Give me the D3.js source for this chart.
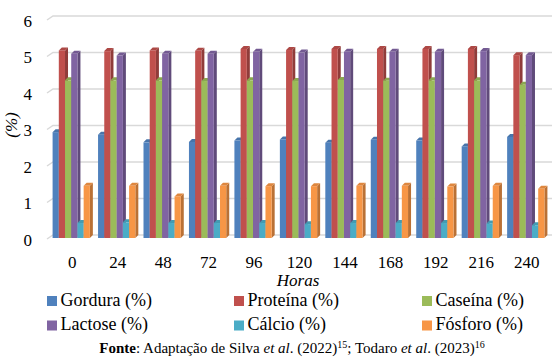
<!DOCTYPE html>
<html>
<head>
<meta charset="utf-8">
<script src="https://cdn.jsdelivr.net/npm/d3@7"></script>
<style>
  body { margin: 0; background: #fff; }
  svg { display: block; }
</style>
</head>
<body>
<svg id="chart" width="554" height="359" font-family="'Liberation Serif', 'DejaVu Serif', serif"></svg>
<script>
const hours = ["0", "24", "48", "72", "96", "120", "144", "168", "192", "216", "240"];
const series = ["Gordura (%)", "Proteína (%)", "Caseína (%)", "Lactose (%)", "Cálcio (%)", "Fósforo (%)"];
const gordura  = [2.90, 2.83, 2.62, 2.63, 2.67, 2.70, 2.61, 2.69, 2.67, 2.51, 2.77];
const proteina = [5.14, 5.12, 5.14, 5.13, 5.18, 5.15, 5.18, 5.18, 5.18, 5.18, 5.01];
const caseina  = [4.32, 4.32, 4.32, 4.30, 4.32, 4.30, 4.33, 4.31, 4.32, 4.32, 4.20];
const lactose  = [5.05, 5.00, 5.05, 5.05, 5.10, 5.08, 5.10, 5.10, 5.10, 5.12, 5.01];
const calcio   = [0.41, 0.43, 0.41, 0.41, 0.41, 0.38, 0.41, 0.41, 0.41, 0.40, 0.35];
const fosforo  = [1.43, 1.43, 1.14, 1.43, 1.42, 1.42, 1.43, 1.43, 1.41, 1.43, 1.35];
const yTicks = [0, 1, 2, 3, 4, 5, 6];
const colors = ["#4F81BD", "#C0504D", "#9BBB59", "#8064A2", "#4BACC6", "#F79646"];

const values = [gordura, proteina, caseina, lactose, calcio, fosforo];

const svg = d3.select("#chart");

const x = d3.scaleBand().domain(hours).range([48.5, 548.5]).paddingInner(0.18).paddingOuter(0.09);
const xs = d3.scaleBand().domain(series).range([0, x.bandwidth()]);
const y = d3.scaleLinear().domain([0, 6]).range([235, 16]);  // back wall
const depth = 3, base = 238;

// gridlines with the little 3D side wall
let grid = svg.append("g").attr("stroke", "#d9d9d9").attr("stroke-width", 1.5).attr("fill", "none");
yTicks.forEach(t => {
    grid.append("path").attr("d", `M47,${y(t) + 4}L53,${y(t)}L552,${y(t)}`);
});

// y tick labels
svg.append("g").selectAll("text").data(yTicks).join("text")
    .attr("x", 32).attr("y", d => y(d) + 10.5)
    .attr("text-anchor", "end").attr("font-size", 17)
    .text(d => d);

svg.append("text")
    .attr("transform", "translate(17,125) rotate(-90)")
    .attr("text-anchor", "middle").attr("font-size", 17).attr("font-style", "italic")
    .text("(%)");

// bars
let groups = svg.append("g").selectAll("g").data(hours).join("g")
    .attr("transform", d => `translate(${x(d)},0)`);

groups.each(function(h, i) {
    let g = d3.select(this);
    series.forEach((s, j) => {
        let v = values[j][i];
        let x0 = xs(s), w = xs.bandwidth();
        let top = y(v) + depth;
        let c = d3.color(colors[j]);
        g.append("path")
            .attr("d", `M${x0 + w},${base}L${x0 + w + depth},${base - depth}L${x0 + w + depth},${top - depth}L${x0 + w},${top}Z`)
            .attr("fill", c.darker(0.8));
        g.append("path")
            .attr("d", `M${x0},${top}L${x0 + depth},${top - depth}L${x0 + w + depth},${top - depth}L${x0 + w},${top}Z`)
            .attr("fill", c.darker(0.3));
        g.append("rect")
            .attr("x", x0).attr("y", top)
            .attr("width", w).attr("height", base - top)
            .attr("fill", c);
    });
});

// x labels
svg.append("g").selectAll("text").data(hours).join("text")
    .attr("x", d => x(d) + x.bandwidth() / 2 + 1)
    .attr("y", 267.5)
    .attr("text-anchor", "middle").attr("font-size", 17)
    .text(d => d);

svg.append("text")
    .attr("x", 298).attr("y", 286)
    .attr("text-anchor", "middle").attr("font-size", 17).attr("font-style", "italic")
    .text("Horas");

// legend
const legX = [47, 234, 422];
const legY = [305.5, 330];
let leg = svg.append("g").selectAll("g").data(series).join("g")
    .attr("transform", (d, i) => `translate(${legX[i % 3]},${legY[Math.floor(i / 3)]})`);
leg.append("rect").attr("x", 0).attr("y", -9.5).attr("width", 10).attr("height", 10)
    .attr("fill", (d, i) => colors[i]);
leg.append("text").attr("x", 13.5).attr("y", 0).attr("font-size", 18).text(d => d);

// source line
let src = svg.append("text")
    .attr("x", 292).attr("y", 353)
    .attr("text-anchor", "middle").attr("font-size", 15);
src.append("tspan").attr("font-weight", "bold").text("Fonte");
src.append("tspan").text(": Adaptação de Silva ");
src.append("tspan").attr("font-style", "italic").text("et al");
src.append("tspan").text(". (2022)");
src.append("tspan").attr("font-size", 10).attr("dy", -5).text("15");
src.append("tspan").attr("dy", 5).text("; Todaro ");
src.append("tspan").attr("font-style", "italic").text("et al");
src.append("tspan").text(". (2023)");
src.append("tspan").attr("font-size", 10).attr("dy", -5).text("16");
</script>
</body>
</html>
